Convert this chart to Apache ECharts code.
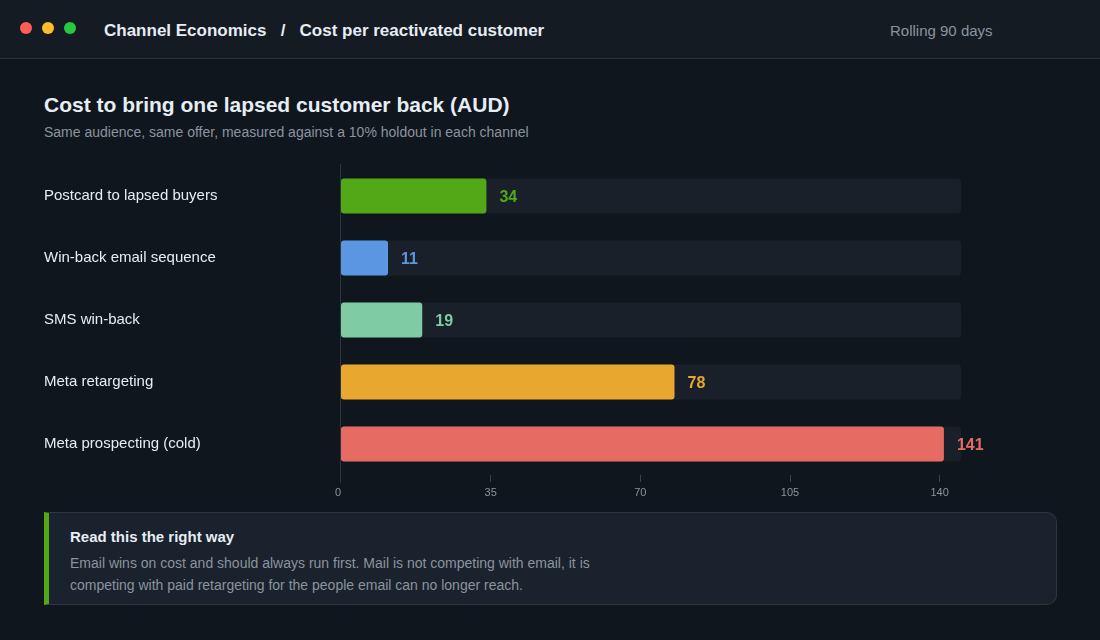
<!DOCTYPE html>
<html>
<head>
<meta charset="utf-8">
<script src="https://cdn.jsdelivr.net/npm/echarts@6/dist/echarts.min.js"></script>
<style>
  html, body { margin: 0; padding: 0; }
  body {
    width: 1100px; height: 640px; overflow: hidden; position: relative;
    background: #10161e; font-family: "Liberation Sans", Arial, sans-serif;
  }
  .top {
    position: absolute; left: 0; top: 0; width: 1100px; height: 58px;
    background: #151b23; border-bottom: 1px solid #2b333d;
  }
  .dot { position: absolute; top: 22px; width: 12px; height: 12px; border-radius: 50%; }
  .crumb {
    position: absolute; left: 104px; top: 21px; font-size: 17px; font-weight: bold;
    color: #e6edf3; white-space: pre;
  }
  .range { position: absolute; left: 890px; top: 22px; font-size: 15px; color: #8b949e; }
  .title {
    position: absolute; left: 44px; top: 93px; font-size: 21px; font-weight: bold; color: #e6edf3;
  }
  .sub { position: absolute; left: 44px; top: 124px; font-size: 14px; color: #8b949e; }
  #chart { position: absolute; left: 0; top: 150px; width: 1100px; height: 360px; }
  .note {
    position: absolute; left: 44px; top: 512px; width: 1007px; height: 91px;
    background: #19222d; border: 1px solid #2d3640; border-left: 5px solid #52a817;
    border-radius: 0 10px 10px 0;
  }
  .note h4 { margin: 0; position: absolute; left: 21px; top: 15px; font-size: 15px; color: #e6edf3; }
  .note p {
    margin: 0; position: absolute; left: 21px; top: 39px; width: 560px;
    font-size: 14px; line-height: 22px; color: #8b949e;
  }
</style>
</head>
<body>
<div class="top">
  <div class="dot" style="left:20px;background:#ff5f57"></div>
  <div class="dot" style="left:42px;background:#febc2e"></div>
  <div class="dot" style="left:64px;background:#28c840"></div>
  <div class="crumb">Channel Economics   /   Cost per reactivated customer</div>
  <div class="range">Rolling 90 days</div>
</div>
<div class="title">Cost to bring one lapsed customer back (AUD)</div>
<div class="sub">Same audience, same offer, measured against a 10% holdout in each channel</div>
<div id="chart"></div>
<div class="note">
  <h4>Read this the right way</h4>
  <p>Email wins on cost and should always run first. Mail is not competing with email, it is competing with paid retargeting for the people email can no longer reach.</p>
</div>
<script>
var channels = ['Postcard to lapsed buyers', 'Win-back email sequence', 'SMS win-back', 'Meta retargeting', 'Meta prospecting (cold)'];
var costs = [34, 11, 19, 78, 141];
var barColors = ['#52a817', '#5b96e3', '#7ecba4', '#e8a72e', '#e66b63'];
var tickValues = [0, 35, 70, 105, 140];

var myChart = echarts.init(document.getElementById('chart'));

var option = {
    backgroundColor: 'transparent',
    animation: false,
    grid: {
        left: 341,
        right: 139,
        top: 15,
        height: 310
    },
    xAxis: {
        type: 'value',
        min: 0,
        max: 145,
        axisLine: { show: false },
        splitLine: { show: false },
        axisTick: {
            show: true,
            customValues: tickValues.slice(1),
            length: 7,
            lineStyle: { color: '#39424d' }
        },
        axisLabel: {
            customValues: tickValues,
            color: '#8b949e',
            fontSize: 11,
            margin: 12,
            fontFamily: 'Liberation Sans',
            formatter: function (v) { return v; },
            alignMinLabel: 'right'
        }
    },
    yAxis: {
        type: 'category',
        inverse: true,
        data: channels,
        axisLine: { show: false },
        axisTick: { show: false },
        axisLabel: {
            align: 'left',
            margin: 297,
            color: '#e6edf3',
            fontSize: 15,
            padding: [2, 0, 0, 0],
            fontFamily: 'Liberation Sans'
        }
    },
    series: [
        {
            type: 'bar',
            barWidth: 35,
            data: costs.map(function (v, i) {
                return {
                    value: v,
                    itemStyle: { color: barColors[i] },
                    label: { color: barColors[i] }
                };
            }),
            itemStyle: { borderRadius: 3 },
            showBackground: true,
            backgroundStyle: { color: '#1a202a', borderRadius: 4 },
            label: {
                show: true,
                position: 'right',
                distance: 13,
                offset: [0, 2],
                fontSize: 16,
                fontWeight: 'bold',
                fontFamily: 'Liberation Sans'
            }
        }
    ]
};

myChart.setOption(option);

// baseline at zero, running a little past the plot like the reference
var x0 = myChart.convertToPixel({ xAxisIndex: 0 }, 0);
myChart.setOption({
    graphic: [{
        type: 'line',
        shape: { x1: Math.round(x0) - 0.5, y1: 14, x2: Math.round(x0) - 0.5, y2: 333 },
        style: { stroke: '#2d3640', lineWidth: 1 },
        z: 10
    }]
});
</script>
</body>
</html>
